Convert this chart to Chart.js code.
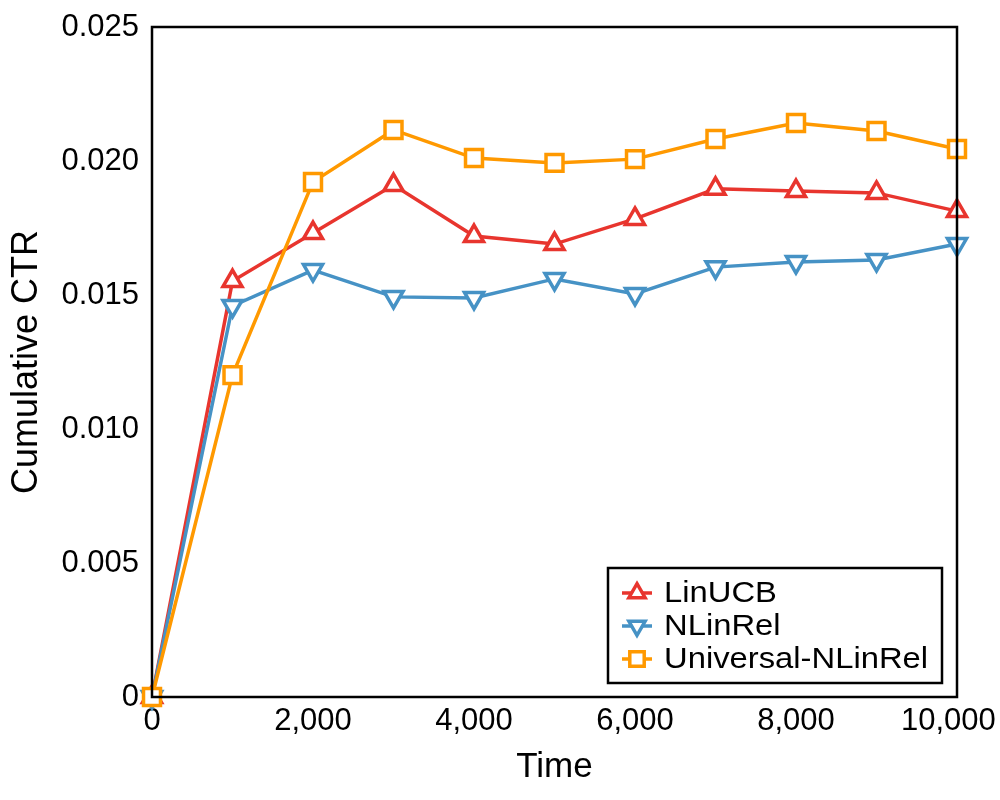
<!DOCTYPE html>
<html>
<head>
<meta charset="utf-8">
<script src="https://cdn.jsdelivr.net/npm/chart.js@4/dist/chart.umd.min.js"></script>
<style>
  html, body { margin: 0; padding: 0; background: #fff; }
  #wrap { width: 1000px; height: 800px; }
</style>
</head>
<body>
<div id="wrap"><canvas id="c" width="1000" height="800"></canvas></div>
<script>
const times = [0, 1000, 2000, 3000, 4000, 5000, 6000, 7000, 8000, 9000, 10000];
const linUCB = [0, 0.01552, 0.01731, 0.01910, 0.01720, 0.01690, 0.01784, 0.01896, 0.01888, 0.01881, 0.01813];
const nLinRel = [0, 0.01459, 0.01593, 0.01493, 0.01489, 0.01560, 0.01504, 0.01604, 0.01623, 0.01631, 0.01690];
const universalNLinRel = [0, 0.01201, 0.01922, 0.02116, 0.02011, 0.01993, 0.02007, 0.02082, 0.02142, 0.02112, 0.02045];
const seriesNames = ['LinUCB', 'NLinRel', 'Universal-NLinRel'];
const xTicks = [0, 2000, 4000, 6000, 8000, 10000];
const yTicks = [0, 0.005, 0.010, 0.015, 0.020, 0.025];

const FONT = '"Liberation Sans", Arial, Helvetica, sans-serif';

function pts(vals) { return times.map((t, i) => ({ x: t, y: vals[i] })); }

const frameAndLegend = {
  id: 'frameAndLegend',
  afterDatasetsDraw(chart) {
    const ctx = chart.ctx;
    const a = chart.chartArea;
    ctx.save();
    ctx.strokeStyle = '#000';
    ctx.lineWidth = 2.5;
    ctx.strokeRect(a.left, a.top, a.right - a.left, a.bottom - a.top);

    // legend
    const bx = a.right - 349, by = a.bottom - 129, bw = 334, bh = 115;
    ctx.fillStyle = '#fff';
    ctx.fillRect(bx, by, bw, bh);
    ctx.strokeStyle = '#000';
    ctx.lineWidth = 2.5;
    ctx.strokeRect(bx, by, bw, bh);
    chart.data.datasets.forEach((ds, i) => {
      const cy = by + 25 + i * 33;
      const x0 = bx + 14, x1 = bx + 44, cx = (x0 + x1) / 2;
      ctx.strokeStyle = ds.borderColor;
      ctx.lineWidth = 3.5;
      ctx.beginPath();
      ctx.moveTo(x0, cy); ctx.lineTo(x1, cy); ctx.stroke();
      ctx.fillStyle = '#fff';
      ctx.strokeStyle = ds.borderColor;
      ctx.lineWidth = 3.5;
      Chart.helpers.drawPoint(ctx, {
        pointStyle: ds.pointStyle,
        rotation: ds.pointRotation || 0,
        radius: ds.pointRadius * 0.85,
        borderWidth: 3.5
      }, cx, cy);
      ctx.save();
      ctx.fillStyle = '#000';
      ctx.textAlign = 'left';
      ctx.textBaseline = 'middle';
      ctx.font = '29px ' + FONT;
      ctx.translate(bx + 56, cy + 1);
      ctx.scale(1.13, 1);
      ctx.fillText(ds.label, 0, 0);
      ctx.restore();
    });
    ctx.restore();
  }
};

const colors = ['#e8352e', '#4692c5', '#ff9900'];

new Chart(document.getElementById('c'), {
  type: 'line',
  data: {
    datasets: [
      { label: seriesNames[0], data: pts(linUCB), borderColor: colors[0], backgroundColor: '#fff',
        pointStyle: 'triangle', pointRotation: 0, pointRadius: 11, pointBorderWidth: 3.5, borderWidth: 3.5, order: 3 },
      { label: seriesNames[1], data: pts(nLinRel), borderColor: colors[1], backgroundColor: '#fff',
        pointStyle: 'triangle', pointRotation: 180, pointRadius: 11, pointBorderWidth: 3.5, borderWidth: 3.5, order: 2 },
      { label: seriesNames[2], data: pts(universalNLinRel), borderColor: colors[2], backgroundColor: '#fff',
        pointStyle: 'rect', pointRotation: 0, pointRadius: 12, pointBorderWidth: 3.5, borderWidth: 3.5, order: 1 }
    ]
  },
  options: {
    responsive: false,
    animation: false,
    devicePixelRatio: 1,
    clip: false,
    layout: { padding: { top: 27, right: 43, left: 0, bottom: 0 } },
    plugins: { legend: { display: false }, tooltip: { enabled: false } },
    elements: { line: { tension: 0 } },
    scales: {
      x: {
        type: 'linear', min: 0, max: 10000,
        afterBuildTicks(s) { s.ticks = xTicks.map(v => ({ value: v })); },
        afterFit(s) { s.height = 103; s.paddingLeft = 0; s.paddingRight = 0; },
        grid: { display: false, drawTicks: false },
        border: { display: false },
        ticks: { color: '#000', font: { family: FONT, size: 31 }, padding: 6, maxRotation: 0,
          callback: v => v === 10000 ? v.toLocaleString('en-US') + '\u00a0\u00a0' : v.toLocaleString('en-US') },
        title: { display: true, text: 'Time', color: '#000', font: { family: FONT, size: 35 }, padding: { top: 0, bottom: 12 } }
      },
      y: {
        type: 'linear', min: 0, max: 0.025,
        afterBuildTicks(s) { s.ticks = yTicks.map(v => ({ value: v })); },
        afterFit(s) { s.width = 152; s.paddingTop = 0; s.paddingBottom = 0; },
        grid: { display: false, drawTicks: false },
        border: { display: false },
        ticks: { color: '#000', font: { family: FONT, size: 31 }, padding: 13,
          callback: v => v === 0 ? '0' : v.toFixed(3) },
        title: { display: true, text: 'Cumulative CTR', color: '#000', font: { family: FONT, size: 36 }, padding: { top: 5, bottom: 0 } }
      }
    }
  },
  plugins: [frameAndLegend]
});
</script>
</body>
</html>
